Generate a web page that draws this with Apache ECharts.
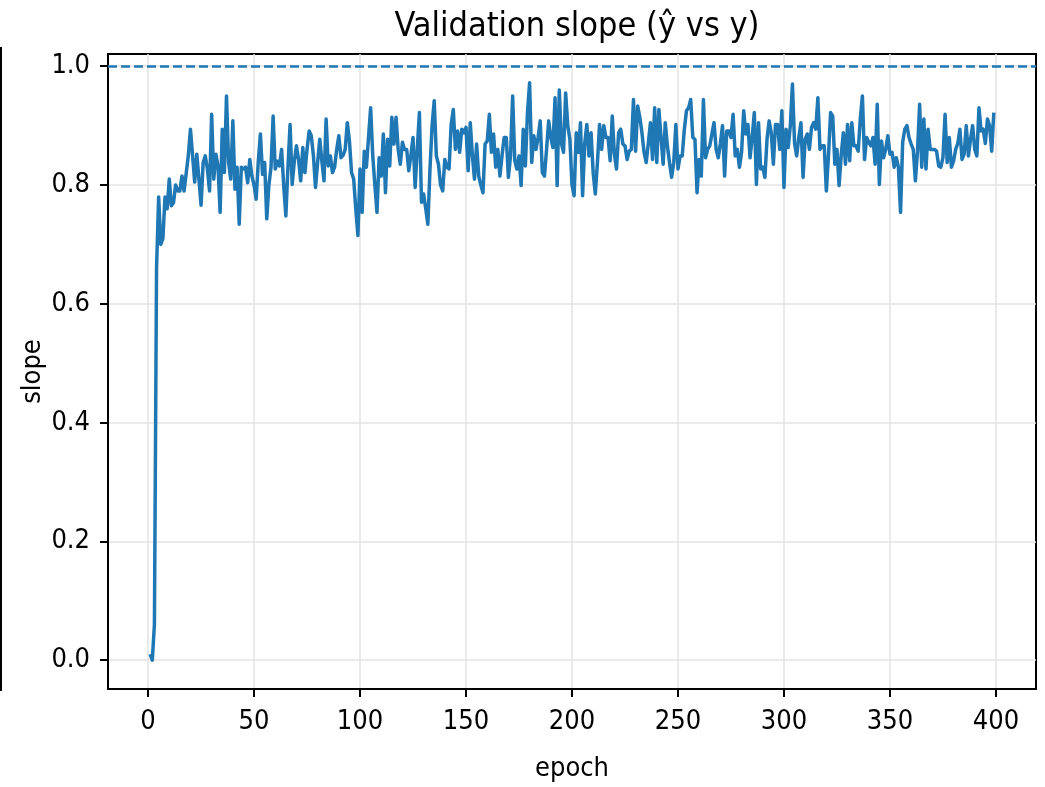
<!DOCTYPE html>
<html>
<head>
<meta charset="utf-8">
<script src="https://cdn.jsdelivr.net/npm/echarts@6/dist/echarts.min.js"></script>
<style>
  html, body { margin: 0; padding: 0; background: #fff; }
  #chart { width: 1045px; height: 787px; }
</style>
</head>
<body>
<div id="chart"></div>
<script>
// Validation slope per epoch (epochs start at 1)
const firstEpoch = 1;
const slope = [
  0.01, 0.00, 0.06, 0.66, 0.78, 0.70, 0.71, 0.78, 0.76, 0.81,
  0.765, 0.77, 0.80, 0.79, 0.79, 0.815, 0.79, 0.82, 0.85, 0.894,
  0.85, 0.805, 0.852, 0.81, 0.766, 0.838, 0.849, 0.827, 0.79, 0.919,
  0.81, 0.852, 0.832, 0.754, 0.894, 0.821, 0.95, 0.838, 0.81, 0.908,
  0.793, 0.83, 0.734, 0.83, 0.827, 0.83, 0.804, 0.843, 0.815, 0.80,
  0.776, 0.84, 0.886, 0.818, 0.838, 0.743, 0.80, 0.83, 0.916, 0.827,
  0.84, 0.832, 0.86, 0.799, 0.748, 0.83, 0.902, 0.801, 0.84, 0.866,
  0.843, 0.807, 0.863, 0.821, 0.86, 0.891, 0.883, 0.85, 0.796, 0.838,
  0.877, 0.84, 0.807, 0.911, 0.832, 0.849, 0.821, 0.83, 0.86, 0.883,
  0.846, 0.85, 0.86, 0.905, 0.874, 0.821, 0.81, 0.76, 0.715, 0.827,
  0.754, 0.857, 0.83, 0.88, 0.93, 0.85, 0.80, 0.754, 0.846, 0.815,
  0.886, 0.787, 0.877, 0.832, 0.914, 0.869, 0.914, 0.86, 0.835, 0.872,
  0.86, 0.86, 0.824, 0.85, 0.88, 0.796, 0.86, 0.922, 0.771, 0.785,
  0.76, 0.734, 0.827, 0.90, 0.942, 0.849, 0.835, 0.80, 0.79, 0.843,
  0.83, 0.827, 0.902, 0.927, 0.86, 0.891, 0.855, 0.894, 0.888, 0.897,
  0.824, 0.905, 0.85, 0.81, 0.869, 0.815, 0.80, 0.787, 0.869, 0.874,
  0.919, 0.855, 0.886, 0.83, 0.86, 0.815, 0.85, 0.88, 0.88, 0.813,
  0.849, 0.95, 0.841, 0.827, 0.849, 0.799, 0.894, 0.832, 0.922, 0.972,
  0.838, 0.883, 0.86, 0.88, 0.908, 0.821, 0.815, 0.86, 0.908, 0.88,
  0.863, 0.947, 0.799, 0.96, 0.87, 0.855, 0.955, 0.90, 0.877, 0.80,
  0.782, 0.888, 0.855, 0.905, 0.782, 0.87, 0.902, 0.849, 0.888, 0.82,
  0.785, 0.838, 0.902, 0.86, 0.90, 0.88, 0.88, 0.841, 0.916, 0.852,
  0.827, 0.888, 0.894, 0.869, 0.866, 0.843, 0.857, 0.86, 0.944, 0.857,
  0.933, 0.914, 0.888, 0.855, 0.838, 0.87, 0.905, 0.843, 0.93, 0.838,
  0.927, 0.88, 0.835, 0.905, 0.866, 0.838, 0.813, 0.838, 0.902, 0.827,
  0.849, 0.849, 0.894, 0.925, 0.93, 0.944, 0.88, 0.877, 0.787, 0.843,
  0.815, 0.944, 0.846, 0.86, 0.866, 0.886, 0.905, 0.86, 0.846, 0.87,
  0.90, 0.815, 0.891, 0.891, 0.88, 0.919, 0.849, 0.86, 0.83, 0.855,
  0.925, 0.886, 0.902, 0.846, 0.88, 0.922, 0.801, 0.905, 0.827, 0.83,
  0.813, 0.877, 0.908, 0.888, 0.835, 0.902, 0.902, 0.86, 0.925, 0.796,
  0.894, 0.863, 0.90, 0.97, 0.87, 0.849, 0.88, 0.905, 0.813, 0.877,
  0.886, 0.86, 0.897, 0.905, 0.894, 0.947, 0.86, 0.866, 0.866, 0.79,
  0.85, 0.922, 0.916, 0.835, 0.86, 0.799, 0.85, 0.888, 0.835, 0.902,
  0.841, 0.905, 0.866, 0.866, 0.857, 0.911, 0.95, 0.843, 0.88, 0.872,
  0.866, 0.88, 0.835, 0.936, 0.801, 0.874, 0.846, 0.86, 0.883, 0.852,
  0.855, 0.83, 0.846, 0.83, 0.754, 0.872, 0.894, 0.90, 0.88, 0.869,
  0.86, 0.807, 0.857, 0.936, 0.83, 0.911, 0.827, 0.894, 0.86, 0.86,
  0.86, 0.857, 0.832, 0.83, 0.846, 0.919, 0.838, 0.88, 0.83, 0.84,
  0.86, 0.87, 0.894, 0.843, 0.852, 0.90, 0.849, 0.877, 0.90, 0.86,
  0.849, 0.93, 0.891, 0.894, 0.87, 0.911, 0.90, 0.857, 0.922
];

// Reference level for a perfect slope
const targetSlope = 1.0;

// Tick positions
const xTicks = [0, 50, 100, 150, 200, 250, 300, 350, 400];
const yTicks = [0.0, 0.2, 0.4, 0.6, 0.8, 1.0];

const points = slope.map((v, i) => [firstEpoch + i, v]);

// Axis limits with a 5% margin around the data
const xMin = firstEpoch, xMax = firstEpoch + slope.length - 1;
const xPad = (xMax - xMin) * 0.05;
const yLo = Math.min(...slope), yHi = Math.max(...slope);
const yPad = (yHi - yLo) * 0.05;

const FONT = '"DejaVu Sans Condensed", "DejaVu Sans", sans-serif';
const BLUE = '#1f77b4';

const chart = echarts.init(document.getElementById('chart'), null, { renderer: 'canvas' });

chart.setOption({
  backgroundColor: '#ffffff',
  animation: false,
  title: {
    text: 'Validation slope (ŷ vs y)',
    left: 572,
    top: 5,
    textAlign: 'center',
    textStyle: { fontFamily: FONT, fontSize: 34, fontWeight: 'normal', color: '#000' }
  },
  grid: {
    left: 108, right: 9, top: 54, bottom: 97,
    show: true, borderColor: '#000', borderWidth: 2, backgroundColor: 'transparent'
  },
  xAxis: {
    type: 'value',
    min: xMin - xPad,
    max: xMax + xPad,
    name: 'epoch',
    nameLocation: 'middle',
    nameGap: 66,
    nameMoveOverlap: false,
    nameTextStyle: { fontFamily: FONT, fontSize: 27, color: '#000' },
    axisLine: { show: true, onZero: false, lineStyle: { color: '#000', width: 2 } },
    axisTick: { show: true, length: 8, inside: false, customValues: xTicks, lineStyle: { color: '#000', width: 2 } },
    axisLabel: { customValues: xTicks, margin: 19, fontFamily: FONT, fontSize: 27, color: '#000' },
    splitLine: { show: true, lineStyle: { color: '#e3e3e3', width: 1.5 } }
  },
  yAxis: {
    type: 'value',
    min: yLo - yPad,
    max: yHi + yPad,
    name: 'slope',
    nameLocation: 'middle',
    nameGap: 62,
    nameMoveOverlap: false,
    nameRotate: 90,
    nameTextStyle: { fontFamily: FONT, fontSize: 27, color: '#000' },
    axisLine: { show: true, onZero: false, lineStyle: { color: '#000', width: 2 } },
    axisTick: { show: true, length: 8, inside: false, customValues: yTicks, lineStyle: { color: '#000', width: 2 } },
    axisLabel: {
      customValues: yTicks, margin: 18, fontFamily: FONT, fontSize: 27, color: '#000',
      formatter: v => v.toFixed(1)
    },
    splitLine: { show: true, lineStyle: { color: '#e3e3e3', width: 1.5 } }
  },
  series: [{
    type: 'line',
    data: points,
    showSymbol: false,
    lineStyle: { color: BLUE, width: 3.5, join: 'round' },
    itemStyle: { color: BLUE },
    z: 3,
    markLine: {
      silent: true,
      symbol: ['none', 'none'],
      label: { show: false },
      lineStyle: { color: BLUE, width: 2.5, type: [9, 4] },
      data: [{ yAxis: targetSlope }]
    }
  }],
  graphic: [{
    type: 'line',
    shape: { x1: 1, y1: 47, x2: 1, y2: 691 },
    style: { stroke: '#000', lineWidth: 2 }
  }]
});
</script>
</body>
</html>
